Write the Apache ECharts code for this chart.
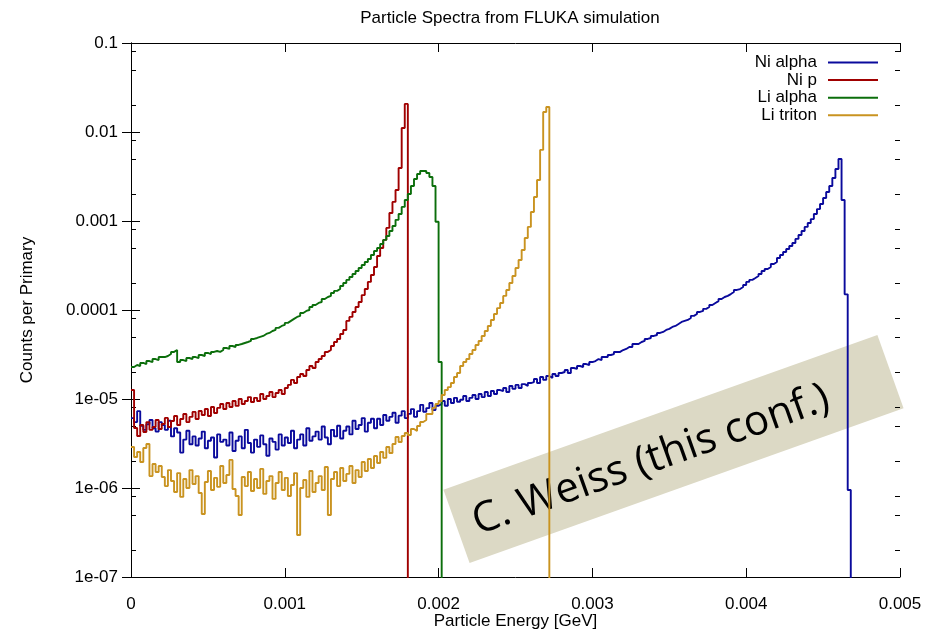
<!DOCTYPE html>
<html><head><meta charset="utf-8">
<script src="https://cdn.jsdelivr.net/npm/echarts@6/dist/echarts.min.js"></script>
<style>html,body{margin:0;padding:0;background:#fff}#c{width:934px;height:633px}</style>
</head><body><div id="c"></div>
<script>
// histogram bin width in GeV; each array holds counts per primary for consecutive bins starting at 0
const binWidth = 0.00002;
const seriesNames = ['Ni alpha', 'Ni p', 'Li alpha', 'Li triton'];

const niAlpha = [
6.1e-6,5.5e-6,7.3e-6,5.0e-6,4.5e-6,5.2e-6,5.8e-6,4.7e-6,4.3e-6,5.5e-6,
5.1e-6,4.5e-6,5.7e-6,3.8e-6,4.7e-6,4.2e-6,2.5e-6,3.5e-6,4.4e-6,3.1e-6,
3.8e-6,3.0e-6,3.6e-6,4.3e-6,2.8e-6,3.4e-6,3.7e-6,2.2e-6,4.0e-6,3.3e-6,
3.5e-6,3.0e-6,4.2e-6,2.6e-6,3.4e-6,3.8e-6,2.8e-6,4.5e-6,3.2e-6,2.5e-6,
3.5e-6,2.9e-6,3.9e-6,3.1e-6,2.3e-6,3.6e-6,3.3e-6,2.7e-6,4.0e-6,3.0e-6,
3.7e-6,3.2e-6,4.4e-6,2.8e-6,3.5e-6,4.0e-6,3.0e-6,4.7e-6,3.4e-6,3.8e-6,
4.3e-6,3.5e-6,4.9e-6,3.7e-6,3.1e-6,4.5e-6,3.8e-6,5.0e-6,3.6e-6,4.4e-6,
4.9e-6,4.0e-6,5.7e-6,4.6e-6,5.1e-6,6.1e-6,4.3e-6,5.4e-6,6.0e-6,4.7e-6,
6.0e-6,5.1e-6,6.6e-6,5.7e-6,6.3e-6,7.0e-6,5.4e-6,6.5e-6,7.3e-6,6.1e-6,
6.8e-6,7.7e-6,6.3e-6,7.3e-6,8.6e-6,7.2e-6,7.9e-6,9.0e-6,7.5e-6,8.4e-6,
8.8e-6,9.5e-6,8.4e-6,1.0e-5,9.0e-6,1.03e-5,9.3e-6,9.8e-6,1.08e-5,9.5e-6,
1.03e-5,1.11e-5,1.0e-5,1.14e-5,1.05e-5,1.2e-5,1.08e-5,1.23e-5,1.14e-5,1.26e-5,
1.23e-5,1.33e-5,1.2e-5,1.4e-5,1.3e-5,1.44e-5,1.33e-5,1.47e-5,1.4e-5,1.51e-5,
1.55e-5,1.68e-5,1.51e-5,1.77e-5,1.64e-5,1.81e-5,1.72e-5,1.91e-5,1.81e-5,1.96e-5,
2.01e-5,2.12e-5,1.96e-5,2.23e-5,2.18e-5,2.35e-5,2.29e-5,2.47e-5,2.41e-5,2.6e-5,
2.67e-5,2.81e-5,2.74e-5,2.96e-5,2.96e-5,3.12e-5,3.2e-5,3.38e-5,3.38e-5,3.55e-5,
3.65e-5,3.84e-5,3.84e-5,4.15e-5,4.15e-5,4.37e-5,4.49e-5,4.73e-5,4.85e-5,5.11e-5,
5.24e-5,5.52e-5,5.67e-5,5.97e-5,6.13e-5,6.45e-5,6.62e-5,6.97e-5,7.34e-5,7.54e-5,
7.73e-5,8.14e-5,8.58e-5,9.03e-5,9.51e-5,9.76e-5,1.03e-4,1.08e-4,1.14e-4,1.2e-4,
1.26e-4,1.33e-4,1.4e-4,1.44e-4,1.51e-4,1.59e-4,1.68e-4,1.72e-4,1.81e-4,1.91e-4,
2.07e-4,2.18e-4,2.29e-4,2.41e-4,2.54e-4,2.74e-4,2.89e-4,3.04e-4,3.29e-4,3.46e-4,
3.84e-4,4.15e-4,4.49e-4,4.85e-4,5.24e-4,5.67e-4,6.29e-4,6.97e-4,7.73e-4,8.58e-4,
9.5e-4,1.05e-3,1.2e-3,1.36e-3,1.55e-3,1.81e-3,2.12e-3,2.47e-3,3.04e-3,3.84e-3,
4.98e-3,1.72e-3,1.5e-4,9.5e-7
];

const niP = [
1.26e-5,4.73e-6,3.84e-6,5.1e-6,4.26e-6,5.5e-6,4.5e-6,4.85e-6,5.8e-6,4.6e-6,
5.24e-6,6.13e-6,4.85e-6,5.67e-6,6.45e-6,5.1e-6,5.97e-6,6.79e-6,5.5e-6,6.29e-6,
7.16e-6,5.97e-6,7.34e-6,6.62e-6,7.73e-6,6.45e-6,8.14e-6,6.97e-6,7.94e-6,8.8e-6,
7.73e-6,9.03e-6,8.14e-6,9.51e-6,8.36e-6,1.0e-5,8.8e-6,9.51e-6,1.05e-5,9.27e-6,
1.03e-5,9.51e-6,1.14e-5,1.0e-5,1.08e-5,1.2e-5,1.05e-5,1.17e-5,1.26e-5,1.14e-5,
1.33e-5,1.44e-5,1.64e-5,1.51e-5,1.77e-5,1.91e-5,1.81e-5,2.12e-5,2.35e-5,2.23e-5,
2.6e-5,2.81e-5,3.04e-5,3.38e-5,3.55e-5,3.94e-5,4.37e-5,4.73e-5,5.38e-5,5.97e-5,
7.54e-5,8.36e-5,9.51e-5,1.08e-4,1.23e-4,1.47e-4,1.72e-4,2.07e-4,2.47e-4,3.04e-4,
4.05e-4,4.98e-4,6.13e-4,8.36e-4,1.23e-3,1.64e-3,2.23e-3,3.94e-3,1.11e-2,2.07e-2
];

const liAlpha = [
2.29e-5,2.41e-5,2.35e-5,2.54e-5,2.47e-5,2.67e-5,2.6e-5,2.81e-5,2.74e-5,2.96e-5,
2.96e-5,3.04e-5,3.2e-5,3.38e-5,3.55e-5,2.6e-5,2.74e-5,2.67e-5,2.89e-5,2.81e-5,
2.96e-5,2.89e-5,3.12e-5,3.04e-5,3.29e-5,3.2e-5,3.38e-5,3.46e-5,3.38e-5,3.55e-5,
3.74e-5,3.65e-5,3.94e-5,3.84e-5,4.05e-5,4.15e-5,4.26e-5,4.37e-5,4.49e-5,4.73e-5,
4.85e-5,4.98e-5,5.11e-5,5.38e-5,5.52e-5,5.81e-5,5.97e-5,6.29e-5,6.62e-5,6.79e-5,
7.16e-5,7.54e-5,7.94e-5,8.36e-5,8.58e-5,9.27e-5,9.76e-5,1.0e-4,1.08e-4,1.14e-4,
1.2e-4,1.23e-4,1.33e-4,1.4e-4,1.44e-4,1.55e-4,1.64e-4,1.72e-4,1.86e-4,2.01e-4,
2.18e-4,2.35e-4,2.54e-4,2.74e-4,2.96e-4,3.2e-4,3.46e-4,3.74e-4,4.15e-4,4.6e-4,
4.98e-4,5.52e-4,6.13e-4,6.79e-4,7.73e-4,8.8e-4,1.03e-3,1.2e-3,1.44e-3,1.72e-3,
2.01e-3,2.47e-3,2.96e-3,3.38e-3,3.65e-3,3.65e-3,3.46e-3,3.12e-3,2.47e-3,9.8e-4,
2.6e-5
];

const liTriton = [
2.89e-6,2.23e-6,2.54e-6,1.96e-6,2.81e-6,3.12e-6,1.36e-6,1.86e-6,1.51e-6,1.77e-6,
1.33e-6,1.05e-6,1.59e-6,1.2e-6,9.03e-7,1.47e-6,7.94e-7,1.26e-6,1.0e-6,1.59e-6,
1.11e-6,1.36e-6,8.8e-7,5.11e-7,1.17e-6,1.55e-6,9.51e-7,1.3e-6,1.03e-6,1.77e-6,
1.14e-6,1.4e-6,2.07e-6,9.76e-7,8.14e-7,4.98e-7,1.33e-6,1.05e-6,1.51e-6,9.27e-7,
1.26e-6,1.0e-6,1.64e-6,8.58e-7,1.2e-6,1.36e-6,7.54e-7,1.14e-6,1.51e-6,9.51e-7,
1.3e-6,8.14e-7,1.08e-6,1.47e-6,2.96e-7,1.0e-6,1.23e-6,7.94e-7,1.55e-6,9.03e-7,
1.14e-6,1.36e-6,9.51e-7,1.72e-6,4.98e-7,1.26e-6,1.51e-6,1.05e-6,1.68e-6,1.2e-6,
1.44e-6,1.77e-6,1.14e-6,1.59e-6,1.33e-6,1.96e-6,1.55e-6,2.12e-6,1.68e-6,2.29e-6,
1.91e-6,2.54e-6,2.18e-6,2.89e-6,2.47e-6,
3.12e-6,3.74e-6,3.29e-6,3.84e-6,4.15e-6,3.94e-6,4.6e-6,4.37e-6,4.98e-6,5.52e-6,5.81e-6,6.79e-6,6.79e-6,7.94e-6,8.8e-6,
9.51e-6,1.11e-5,1.26e-5,1.36e-5,1.51e-5,1.77e-5,1.96e-5,2.35e-5,2.6e-5,2.81e-5,
3.2e-5,3.55e-5,4.05e-5,4.49e-5,5.11e-5,5.81e-5,6.62e-5,7.73e-5,9.03e-5,1.05e-4,
1.2e-4,1.44e-4,1.68e-4,2.01e-4,2.41e-4,2.96e-4,3.65e-4,4.73e-4,6.45e-4,8.58e-4,
1.26e-3,1.86e-3,2.89e-3,6.29e-3,1.68e-2,1.91e-2
];

const xTickValues = [0, 0.001, 0.002, 0.003, 0.004, 0.005];
const yTickLabels = ['1e-07', '1e-06', '1e-05', '0.0001', '0.001', '0.01', '0.1'];
const minorMantissas = [2, 5, 8];
const colors = ['#0a0a9c', '#a00000', '#0b6e0b', '#c99320'];

const FONT = '"Liberation Sans", Arial, sans-serif';

const minorTickValues = [];
for (let e = -7; e <= -2; e++) for (const m of minorMantissas) minorTickValues.push(m * Math.pow(10, e));

function toSteps(vals) {
  const d = vals.map((v, i) => [+(i * binWidth).toFixed(7), v]);
  d.push([+(vals.length * binWidth).toFixed(7), 1e-9]);
  return d;
}
const allData = [niAlpha, niP, liAlpha, liTriton];

const baseY = {
  type: 'log', logBase: 10, min: 1e-7, max: 0.1,
  splitLine: { show: false },
  axisLine: { show: true, lineStyle: { color: '#000', width: 1 } }
};

const chart = echarts.init(document.getElementById('c'), null, { renderer: 'canvas' });
chart.setOption({
  animation: false,
  backgroundColor: '#fff',
  title: {
    text: 'Particle Spectra from FLUKA simulation',
    left: 505, top: 5, textAlign: 'center',
    textStyle: { fontSize: 17, fontWeight: 'normal', color: '#000', fontFamily: FONT }
  },
  legend: {
    data: seriesNames,
    orient: 'vertical', right: 51, top: 49, align: 'right',
    icon: 'rect', itemWidth: 50, itemHeight: 2, itemGap: 0.6,
    textStyle: { fontSize: 17, color: '#000', fontFamily: FONT, padding: [0, 6, 0, 0] }
  },
  grid: { left: 131, right: 34, top: 43, bottom: 56, containLabel: false, outerBoundsMode: 'none' },
  xAxis: [{
    type: 'value', position: 'bottom', min: 0, max: 0.005, interval: 0.001,
    name: 'Particle Energy [GeV]', nameLocation: 'middle', nameGap: 36, nameMoveOverlap: false,
    nameTextStyle: { fontSize: 17, color: '#000', fontFamily: FONT },
    axisLine: { show: true, onZero: false, lineStyle: { color: '#000', width: 1 } },
    axisTick: { show: true, inside: true, length: 9, lineStyle: { color: '#000' } },
    axisLabel: { margin: 19, fontSize: 17, color: '#000', fontFamily: FONT,
      formatter: v => { const i = xTickValues.findIndex(t => Math.abs(t - v) < 1e-9); return i >= 0 ? String(xTickValues[i]) : ''; } },
    splitLine: { show: false }
  }, {
    type: 'value', position: 'top', min: 0, max: 0.005, interval: 0.001,
    axisLine: { show: true, onZero: false, lineStyle: { color: '#000', width: 1 } },
    axisTick: { show: true, inside: true, length: 9, lineStyle: { color: '#000' } },
    axisLabel: { show: false }, splitLine: { show: false }
  }],
  yAxis: [Object.assign({}, baseY, {
    position: 'left',
    name: 'Counts per Primary', nameLocation: 'middle', nameGap: 95,
    nameTextStyle: { fontSize: 17, color: '#000', fontFamily: FONT },
    axisTick: { show: true, inside: true, length: 9, lineStyle: { color: '#000' } },
    axisLabel: { margin: 13, fontSize: 17, color: '#000', fontFamily: FONT,
      formatter: v => yTickLabels[Math.round(Math.log10(v)) + 7] || '' }
  }), Object.assign({}, baseY, {
    position: 'right',
    axisTick: { show: true, inside: true, length: 9, lineStyle: { color: '#000' } },
    axisLabel: { show: false }
  }), Object.assign({}, baseY, {
    position: 'left', axisLine: { show: false },
    axisTick: { show: true, inside: true, length: 5, customValues: minorTickValues, lineStyle: { color: '#000' } },
    axisLabel: { show: false }
  }), Object.assign({}, baseY, {
    position: 'right', axisLine: { show: false },
    axisTick: { show: true, inside: true, length: 5, customValues: minorTickValues, lineStyle: { color: '#000' } },
    axisLabel: { show: false }
  })],
  series: seriesNames.map((name, k) => ({
    name, type: 'line', step: 'end', xAxisIndex: 0, yAxisIndex: 0,
    data: toSteps(allData[k]), showSymbol: false, symbol: 'none', clip: true,
    color: colors[k],
    lineStyle: { color: colors[k], width: 1.9 }
  })),
  graphic: [{
    type: 'group', x: 673.5, y: 449, rotation: 0.343, z: 100,
    children: [
      { type: 'rect', shape: { x: -230.4, y: -38.9, width: 460.8, height: 77.8 }, style: { fill: '#dcd9c5' } },
      { type: 'text', x: -25, y: 3, style: { text: 'C. Weiss (this conf.)', fontSize: 42, fontFamily: '"Open Sans", "Noto Sans", sans-serif', fill: '#000', align: 'center', verticalAlign: 'middle' } }
    ]
  }]
});
</script></body></html>
